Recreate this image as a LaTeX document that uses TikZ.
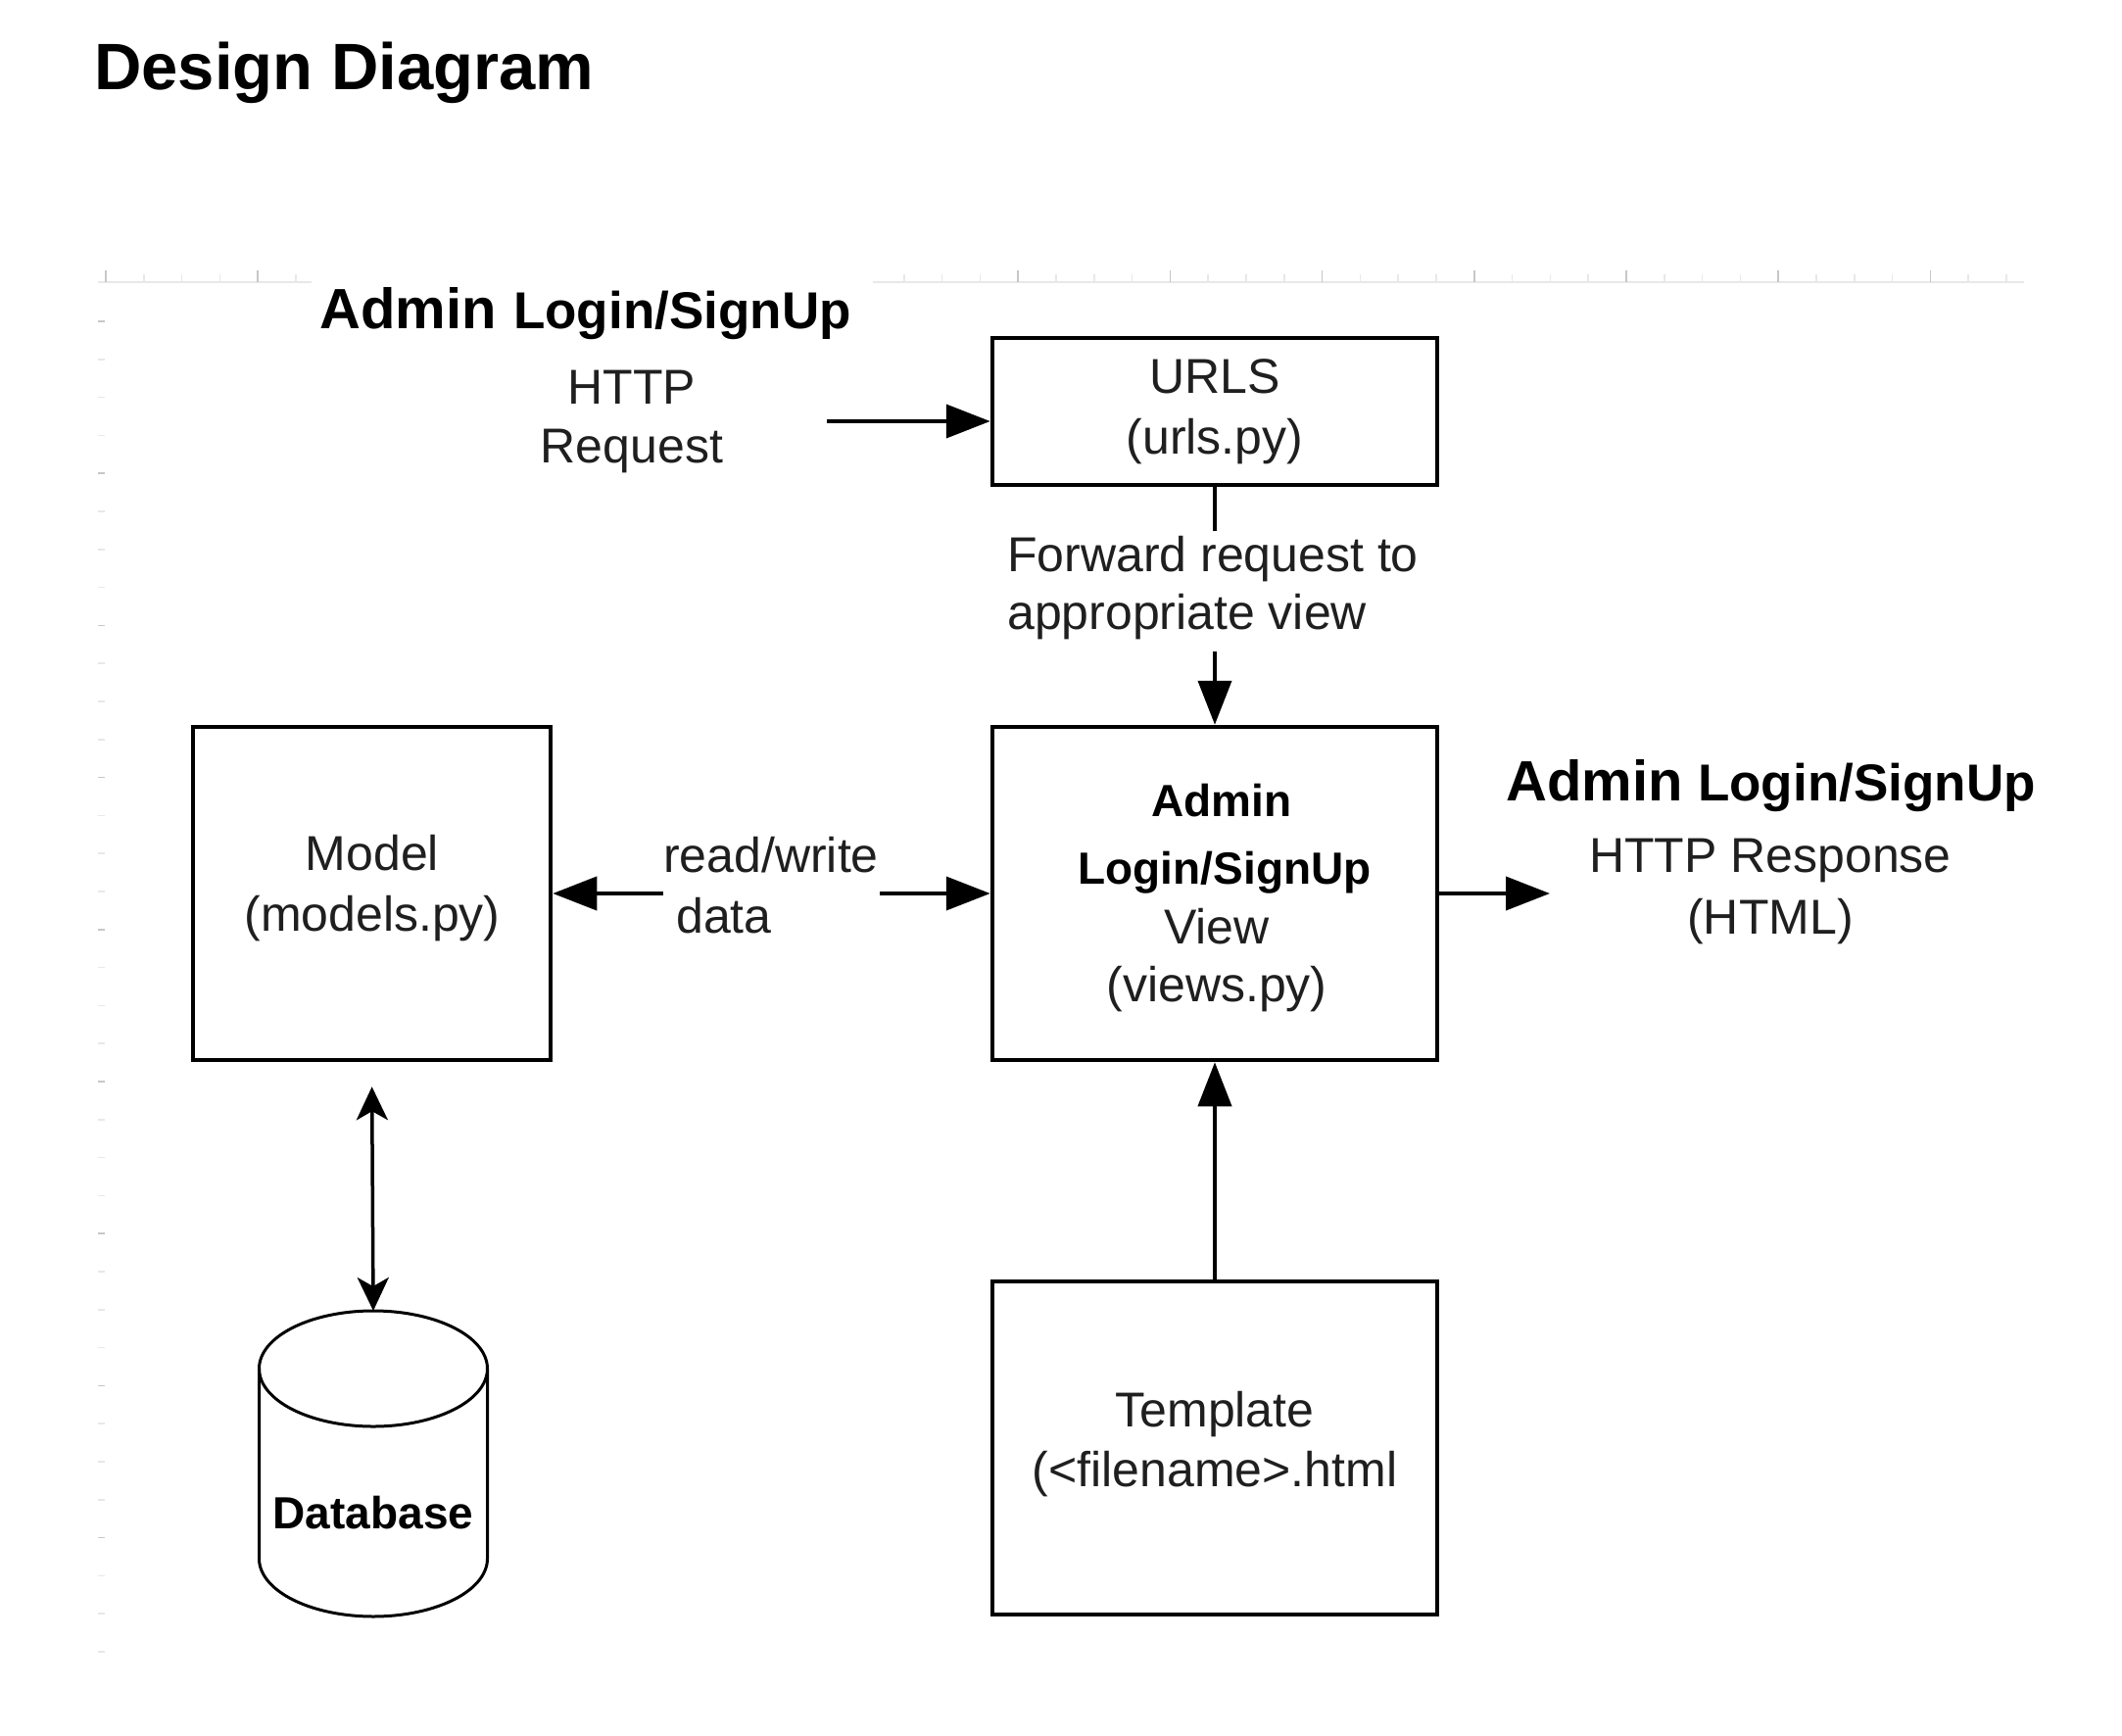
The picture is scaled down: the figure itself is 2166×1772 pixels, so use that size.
\documentclass[tikz,border=0pt]{standalone}
\usepackage{fontspec}
\setmainfont{Liberation Sans}
\usetikzlibrary{arrows.meta,calc}
\begin{document}
\begin{tikzpicture}[x=1pt,y=-1pt,
  boxst/.style={draw, line width=4.5pt, inner sep=0pt, minimum width=454pt},
  txt/.style={font=\fontsize{50}{60}\selectfont, text=black!88, inner sep=0pt, anchor=base},
  boldlbl/.style={font=\fontsize{46}{55}\selectfont\bfseries, text=black, inner sep=0pt, anchor=base},
  head/.style={inner sep=0pt, anchor=base west, text=black},
  arr/.style={line width=4pt, -{Triangle[length=45pt,width=34pt]}},
  plainline/.style={line width=4pt},
  dbarr/.style={line width=3.5pt, {Stealth[length=34pt,width=32pt,inset=9pt]}-{Stealth[length=34pt,width=32pt,inset=9pt]}},
  dbline/.style={line width=3pt, line join=round},
  rulerfaint/.style={draw=black!9, line width=1.5pt},
  rulerdark/.style={draw=black!22, line width=1.5pt},
]
\useasboundingbox (0,0) rectangle (2166,1772);

% faint ruler
\draw[rulerfaint] (100,288) -- (318,288);
\draw[rulerfaint] (891,288) -- (2066,288);
\foreach \i in {0,...,5} {
  \pgfmathsetmacro\xx{108+38.8*\i}
  \pgfmathtruncatemacro\m{mod(\i,4)}
  \ifnum\m=0 \draw[rulerdark] (\xx,276) -- (\xx,288); \else \draw[rulerfaint] (\xx,280) -- (\xx,288); \fi
}
\foreach \i in {21,...,50} {
  \pgfmathsetmacro\xx{108+38.8*\i}
  \pgfmathtruncatemacro\m{mod(\i,4)}
  \ifnum\m=0 \draw[rulerdark] (\xx,276) -- (\xx,288); \else \draw[rulerfaint] (\xx,280) -- (\xx,288); \fi
}
\foreach \i in {0,...,35} {
  \pgfmathsetmacro\yy{328+38.8*\i}
  \pgfmathtruncatemacro\m{mod(\i,4)}
  \ifnum\m=0 \draw[rulerdark] (100,\yy) -- (107,\yy); \else \draw[rulerfaint] (100,\yy) -- (107,\yy); \fi
}

% title and headings
\node[head, font=\fontsize{67}{80}\selectfont\bfseries] (title) at (96,91) {Design Diagram};
\node[head, font=\fontsize{58}{70}\selectfont\bfseries] (h1a) at (326,335) {Admin};
\node[head, font=\fontsize{53}{64}\selectfont\bfseries] (h1b) at (524,335) {Login/SignUp};
\node[head, font=\fontsize{58}{70}\selectfont\bfseries] (h2a) at (1537,817) {Admin};
\node[head, font=\fontsize{53}{64}\selectfont\bfseries] (h2b) at (1733,817) {Login/SignUp};

% boxes
\node[boxst, minimum height=150pt] (urls) at (1240,420) {};
\node[boxst, minimum height=340pt] (view) at (1240,912) {};
\node[boxst, minimum width=365pt, minimum height=340pt] (model) at (379.5,912) {};
\node[boxst, minimum height=340pt] (tmpl) at (1240,1478) {};

% texts
\node[txt] (reqA) at (645,412) {HTTP};
\node[txt] (reqB) at (645,472) {Request};
\node[txt] (urlsA) at (1240,401) {URLS};
\node[txt] (urlsB) at (1240,463) {(urls.py)};
\node[txt, anchor=base west] (fwdA) at (1028,583) {Forward request to};
\node[txt, anchor=base west] (fwdB) at (1028,642) {appropriate view};
\node[txt, anchor=base west] (rwA) at (677,890) {read/write};
\node[txt, anchor=base west] (rwB) at (690,952) {data};
\node[txt] (modelA) at (380,888) {Model};
\node[txt] (modelB) at (380,950) {(models.py)};
\node[boldlbl] (viewA) at (1247,833) {Admin};
\node[boldlbl] (viewB) at (1250,902) {Login/SignUp};
\node[txt] (viewC) at (1242,963) {View};
\node[txt] (viewD) at (1242,1022) {(views.py)};
\node[txt] (tmplA) at (1240,1456) {Template};
\node[txt] (tmplB) at (1240,1517) {(<filename>.html};
\node[txt] (respA) at (1807,890) {HTTP Response};
\node[txt] (respB) at (1807,953) {(HTML)};

% database cylinder
\draw[dbline] (381,1397) ellipse [x radius=116.5, y radius=59];
\draw[dbline] (264.5,1397) -- plot[domain=180:360, samples=73] ({381+116.5*cos(\x)},{1591-59*sin(\x)}) -- (497.5,1397);
\coordinate (dbtop) at (381,1338);
\node[boldlbl] (dbtext) at (381,1560) {Database};

% connectors
\coordinate (reqend) at (844,430);
\draw[arr] (reqend) -- (urls.west |- reqend);
\coordinate (fwdtop) at (1240,542);
\draw[plainline] (urls.south) -- (fwdtop);
\coordinate (fwdbot) at (1240,665);
\draw[arr] (fwdbot) -- (view.north);
\coordinate (rwleft) at (677,912);
\draw[arr] (rwleft) -- (model.east);
\coordinate (rwright) at (898,912);
\draw[arr] (rwright) -- (view.west);
\coordinate (respend) at (1582,912);
\draw[arr] (view.east) -- (respend);
\draw[arr] (tmpl.north) -- (view.south);
\draw[dbarr, shorten <=25pt] (model.south) -- (dbtop);
\end{tikzpicture}
\end{document}
